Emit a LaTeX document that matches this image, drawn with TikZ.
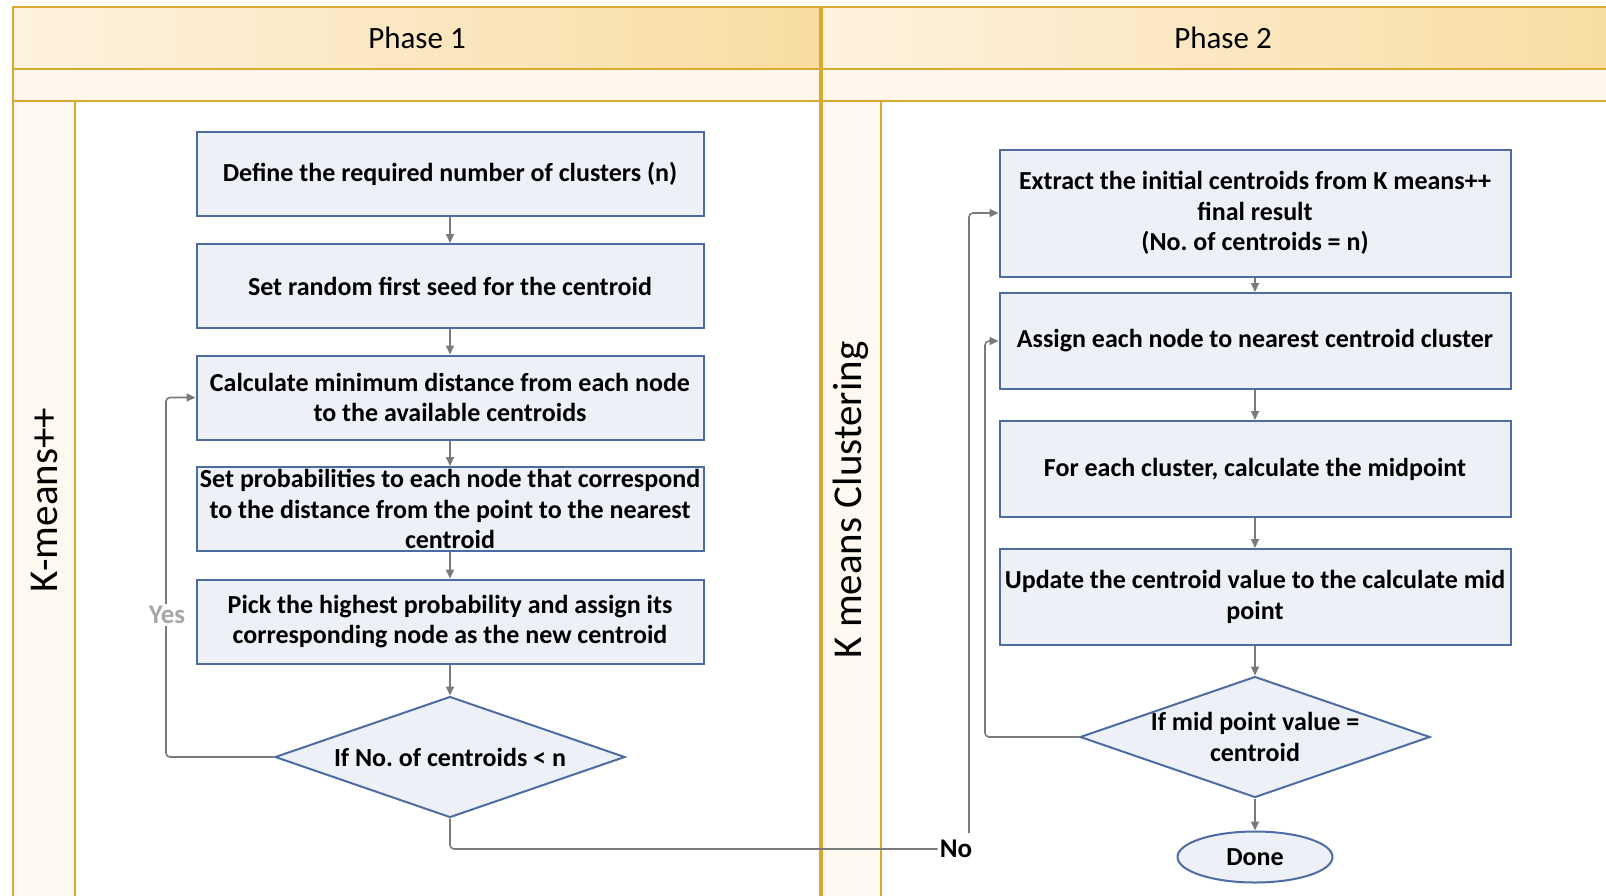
\documentclass[tikz,border=0pt]{standalone}
\usepackage{fontspec}
\setmainfont{Carlito}
\usetikzlibrary{shapes.geometric,arrows.meta}
\frenchspacing

\definecolor{lanegold}{HTML}{D9A92E}
\definecolor{headlight}{HTML}{FDF2DF}
\definecolor{headdark}{HTML}{F8DCA1}
\definecolor{bandfill}{HTML}{FFF7EC}
\definecolor{colfill}{HTML}{FEF8F1}
\definecolor{boxfill}{HTML}{EEF0F7}
\definecolor{boxline}{HTML}{4D6CA3}
\definecolor{flow}{HTML}{7A7A7A}
\definecolor{yesgrey}{HTML}{A6A6A6}

\begin{document}
\begin{tikzpicture}[x=1pt,y=-1pt,
  lane/.style={draw=lanegold, line width=2.2pt},
  procbox/.style={rectangle, draw=boxline, fill=boxfill, line width=2pt,
    inner sep=0pt},
  leftbox/.style={procbox, minimum width=507pt, minimum height=84pt},
  rightbox/.style={procbox, minimum width=511pt},
  decision/.style={diamond, draw=boxline, fill=boxfill, line width=2pt,
    inner sep=0pt, minimum width=350pt, minimum height=121pt},
  terminal/.style={ellipse, draw=boxline, fill=boxfill, line width=2pt,
    inner sep=0pt, minimum width=155pt, minimum height=51pt,
    font=\bfseries\fontsize{26}{30.7}\selectfont},
  boxtext/.style={align=center, inner sep=0pt,
    font=\bfseries\fontsize{26}{30.7}\selectfont},
  headtext/.style={font=\fontsize{31}{36}\selectfont},
  lanetext/.style={rotate=90, font=\fontsize{41}{48}\selectfont},
  flowline/.style={draw=flow, line width=1.6pt, rounded corners=4pt},
  flowarrow/.style={flowline, -{Triangle[length=9pt,width=8pt]}},
  answer/.style={inner sep=2pt, font=\bfseries\fontsize{27}{30}\selectfont}
]
\useasboundingbox (0,0) rectangle (1606,895);

% ---- swimlane frame ----
\fill[bandfill] (13,69) rectangle (1625,101);
\shade[left color=headlight, right color=headdark] (13,7) rectangle (821,69);
\shade[left color=headlight, right color=headdark] (821,7) rectangle (1625,69);
\fill[colfill] (13,101) rectangle (75,900);
\fill[colfill] (821,101) rectangle (881,900);

\draw[lane] (13,900) -- (13,7) -- (1625,7);
\draw[lane] (13,69) -- (1625,69);
\draw[lane] (13,101) -- (1625,101);
\draw[lane] (75,101) -- (75,900);
\draw[lane, line width=4pt] (821,7) -- (821,900);
\draw[lane] (881,101) -- (881,900);

\node[headtext] (ph1) at (417,38) {Phase 1};
\node[headtext] (ph2) at (1223,38) {Phase 2};
\node[lanetext] (lane1) at (44,500) {K-means++};
\node[lanetext] (lane2) at (851,500) {K means Clustering};

% ---- phase 1: K-means++ ----
\node[leftbox] (b1) at (450,174) {};
\node[boxtext] (b1t) at (b1) {Define the required number of clusters (n)};
\node[leftbox] (b2) at (450,286) {};
\node[boxtext] (b2t) at (b2) {Set random first seed for the centroid};
\node[leftbox] (b3) at (450,397.5) {};
\node[boxtext] (b3t) at (b3) {Calculate minimum distance from each node\\to the available centroids};
\node[leftbox] (b4) at (450,509) {};
\node[boxtext] (b4t) at (b4) {Set probabilities to each node that correspond\\to the distance from the point to the nearest\\centroid};
\node[leftbox] (b5) at (450,621.7) {};
\node[boxtext] (b5t) at (b5) {Pick the highest probability and assign its\\corresponding node as the new centroid};
\node[decision] (d1) at (450,757) {};
\node[boxtext] (d1t) at (d1) {If No. of centroids < n};

% ---- phase 2: K means clustering ----
\node[rightbox, minimum height=127pt] (e1) at (1255,213) {};
\node[boxtext] (e1t) at (e1) {Extract the initial centroids from K means++\\final result\\(No. of centroids = n)};
\node[rightbox, minimum height=96pt] (e2) at (1255,341) {};
\node[boxtext] (e2t) at (e2) {Assign each node to nearest centroid cluster};
\node[rightbox, minimum height=96pt] (e3) at (1255,469) {};
\node[boxtext] (e3t) at (e3) {For each cluster, calculate the midpoint};
\node[rightbox, minimum height=96pt] (e4) at (1255,597) {};
\node[boxtext] (e4t) at (e4) {Update the centroid value to the calculate mid\\point};
\node[decision] (d2) at (1255,737) {};
\node[boxtext] (d2t) at (d2) {If mid point value =\\centroid};
\node[terminal] (done) at (1255,857) {Done};

% ---- connectors ----
\draw[flowarrow] (b1) -- (b2);
\draw[flowarrow] (b2) -- (b3);
\draw[flowarrow] (b3) -- (b4);
\draw[flowarrow] (b4) -- (b5);
\draw[flowarrow] (b5) -- (d1);

\coordinate (yesbend) at (166,757);
\draw[flowarrow] (d1.west) -- (yesbend) |- (b3.west);
\node[answer, fill=white, text=yesgrey] (yes) at (167,615) {Yes};

\node[answer] (no) at (956,849) {No};
\draw[flowline] (d1.south) |- (no.west);
\coordinate (noup) at (969,833);
\draw[flowarrow] (noup) |- (e1.west);

\draw[flowarrow] (e1) -- (e2);
\draw[flowarrow] (e2) -- (e3);
\draw[flowarrow] (e3) -- (e4);
\draw[flowarrow] (e4) -- (d2);
\draw[flowarrow] (d2) -- (done);

\coordinate (midbend) at (985,737);
\draw[flowarrow] (d2.west) -- (midbend) |- (e2.west);
\end{tikzpicture}
\end{document}
